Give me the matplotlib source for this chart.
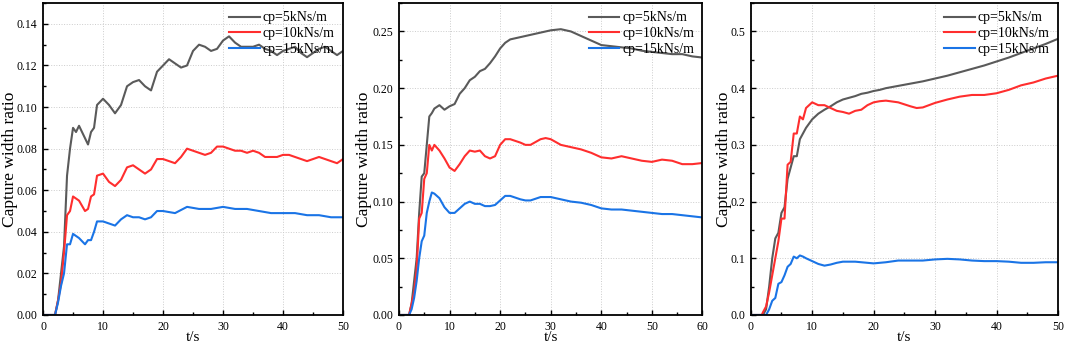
import matplotlib
matplotlib.use("Agg")
import matplotlib.pyplot as plt
from matplotlib.ticker import MultipleLocator, FormatStrFormatter

plt.rcParams['font.family'] = ['Liberation Serif', 'DejaVu Serif']

# =====================================================
# DATA
# =====================================================

LABELS = ["cp=5kNs/m", "cp=10kNs/m", "cp=15kNs/m"]
COLORS = ["#5a5a5a", "#ff2e2e", "#1a74e6"]

# ---- panel (a), t = 0..50 s
t_a = [0, 1, 2, 2.5, 3, 3.5, 4, 4.5, 5, 5.5, 6, 7, 7.5, 8, 8.5, 9, 10, 11, 12, 13,
       14, 15, 16, 17, 18, 19, 20, 21, 22, 23, 24, 25, 26, 27, 28, 29, 30, 31, 32, 33,
       34, 35, 36, 37, 38, 39, 40, 41, 42, 43, 44, 45, 46, 47, 48, 49, 50]
a_cp5 = [0, 0, 0, 0.007, 0.02, 0.033, 0.067, 0.08, 0.09, 0.088, 0.091, 0.085, 0.082, 0.088, 0.09, 0.101,
         0.104, 0.101, 0.097, 0.101, 0.11, 0.112, 0.113, 0.11, 0.108, 0.117, 0.12, 0.123, 0.121, 0.119,
         0.12, 0.127, 0.13, 0.129, 0.127, 0.128, 0.132, 0.134, 0.131, 0.129, 0.129, 0.129, 0.13, 0.128,
         0.127, 0.125, 0.127, 0.128, 0.129, 0.126, 0.124, 0.126, 0.128, 0.129, 0.127, 0.125, 0.127]
a_cp10 = [0, 0, 0, 0.007, 0.015, 0.03, 0.048, 0.05, 0.057, 0.056, 0.055, 0.05, 0.051, 0.057, 0.058, 0.067,
          0.068, 0.064, 0.062, 0.065, 0.071, 0.072, 0.07, 0.068, 0.07, 0.075, 0.075, 0.074, 0.073, 0.076,
          0.08, 0.079, 0.078, 0.077, 0.078, 0.081, 0.081, 0.08, 0.079, 0.079, 0.078, 0.079, 0.078, 0.076,
          0.076, 0.076, 0.077, 0.077, 0.076, 0.075, 0.074, 0.075, 0.076, 0.075, 0.074, 0.073, 0.075]
a_cp15 = [0, 0, 0, 0.006, 0.014, 0.02, 0.034, 0.034, 0.039, 0.038, 0.037, 0.034, 0.036, 0.036, 0.04, 0.045,
          0.045, 0.044, 0.043, 0.046, 0.048, 0.047, 0.047, 0.046, 0.047, 0.05, 0.05, 0.0495, 0.049, 0.0505,
          0.052, 0.0515, 0.051, 0.051, 0.051, 0.0515, 0.052, 0.0515, 0.051, 0.051, 0.051, 0.0505, 0.05, 0.0495,
          0.049, 0.049, 0.049, 0.049, 0.049, 0.0485, 0.048, 0.048, 0.048, 0.0475, 0.047, 0.047, 0.047]

# ---- panel (b), t = 0..60 s
t_b = [0, 1, 2, 2.5, 3, 3.5, 4, 4.5, 5, 5.5, 6, 6.5, 7, 8, 9, 10, 11, 12, 13, 14, 15, 16, 17, 18, 19,
       20, 21, 22, 24, 25, 26, 28, 29, 30, 32, 34, 36, 38, 40, 42, 44, 46, 48, 50, 52, 54, 56, 58, 60]
b_cp5 = [0, 0, 0, 0.01, 0.03, 0.05, 0.09, 0.122, 0.125, 0.15, 0.175, 0.178, 0.182, 0.185, 0.181, 0.184,
         0.186, 0.195, 0.2, 0.207, 0.21, 0.215, 0.217, 0.222, 0.228, 0.235, 0.24, 0.243, 0.245, 0.246,
         0.247, 0.249, 0.25, 0.251, 0.252, 0.25, 0.246, 0.242, 0.238, 0.237, 0.236, 0.235, 0.233, 0.232,
         0.231, 0.23, 0.23, 0.228, 0.227]
b_cp10 = [0, 0, 0, 0.01, 0.02, 0.04, 0.085, 0.09, 0.12, 0.125, 0.15, 0.145, 0.15, 0.145, 0.138, 0.13,
          0.127, 0.133, 0.14, 0.145, 0.144, 0.145, 0.14, 0.138, 0.14, 0.15, 0.155, 0.155, 0.152, 0.15,
          0.15, 0.155, 0.156, 0.155, 0.15, 0.148, 0.146, 0.143, 0.139, 0.138, 0.14, 0.138, 0.136, 0.135,
          0.137, 0.136, 0.133, 0.133, 0.134]
b_cp15 = [0, 0, 0, 0.005, 0.015, 0.03, 0.05, 0.065, 0.07, 0.09, 0.1, 0.108, 0.107, 0.103, 0.095, 0.09,
          0.09, 0.094, 0.098, 0.1, 0.098, 0.098, 0.096, 0.096, 0.097, 0.101, 0.105, 0.105, 0.102, 0.101,
          0.101, 0.104, 0.104, 0.104, 0.102, 0.1, 0.099, 0.097, 0.094, 0.093, 0.093, 0.092, 0.091, 0.09,
          0.089, 0.089, 0.088, 0.087, 0.086]

# ---- panel (c), t = 0..50 s
t_c = [0, 1, 1.8, 2, 2.5, 3, 3.5, 4, 4.5, 5, 5.5, 6, 6.5, 7, 7.5, 8, 8.5, 9, 10, 11, 12, 13, 14, 15,
       16, 17, 18, 19, 20, 21, 22, 24, 26, 27, 28, 30, 32, 34, 36, 38, 40, 42, 44, 46, 48, 50]
c_cp5 = [0, 0, 0, 0, 0.01, 0.05, 0.1, 0.135, 0.145, 0.18, 0.19, 0.24, 0.26, 0.28, 0.28, 0.31, 0.32,
         0.33, 0.345, 0.355, 0.362, 0.368, 0.375, 0.38, 0.383, 0.386, 0.39, 0.392, 0.395, 0.397, 0.4,
         0.404, 0.408, 0.41, 0.412, 0.417, 0.422, 0.428, 0.434, 0.44, 0.447, 0.454, 0.462, 0.47, 0.478,
         0.487]
c_cp10 = [0, 0, 0, 0.005, 0.015, 0.04, 0.07, 0.1, 0.13, 0.17, 0.17, 0.265, 0.27, 0.32, 0.32, 0.35,
          0.345, 0.365, 0.375, 0.37, 0.37, 0.365, 0.36, 0.358, 0.355, 0.36, 0.362, 0.37, 0.375, 0.377,
          0.378, 0.375, 0.368, 0.365, 0.366, 0.374, 0.38, 0.385, 0.388, 0.388, 0.391, 0.397, 0.405,
          0.41, 0.417, 0.422]
c_cp15 = [0, 0, 0, 0, 0, 0.01, 0.025, 0.03, 0.055, 0.058, 0.07, 0.085, 0.09, 0.103, 0.1, 0.105, 0.103,
          0.1, 0.095, 0.09, 0.087, 0.089, 0.092, 0.094, 0.094, 0.094, 0.093, 0.092, 0.091, 0.092, 0.093,
          0.096, 0.096, 0.096, 0.096, 0.098, 0.099, 0.098, 0.096, 0.095, 0.095, 0.094, 0.092, 0.092,
          0.093, 0.093]

PANELS = [
    (t_a, [a_cp5, a_cp10, a_cp15], 50, 0.15, 0.02, 0.01, "%.2f"),
    (t_b, [b_cp5, b_cp10, b_cp15], 60, 0.275, 0.05, 0.025, "%.2f"),
    (t_c, [c_cp5, c_cp10, c_cp15], 50, 0.55, 0.1, 0.05, "%.1f"),
]

# axes rectangles in figure fraction (left, bottom, width, height)
RECTS = [
    (0.0404, 0.087, 0.2817, 0.904),
    (0.3746, 0.087, 0.2850, 0.904),
    (0.7049, 0.087, 0.2885, 0.904),
]

# y-label x position (axes fraction, right edge of rotated label)
YLABEL_X = [-0.085, -0.088, -0.060]

# =====================================================
# PLOT
# =====================================================

fig = plt.figure(figsize=(10.65, 3.45), dpi=100)

for rect, lx, (t, series, xmax, ymax, ymaj, ymin, fmt) in zip(RECTS, YLABEL_X, PANELS):
    ax = fig.add_axes(rect)
    for y, c, lab in zip(series, COLORS, LABELS):
        ax.plot(t, y, color=c, lw=1.5, label=lab)

    ax.set_xlim(0, xmax)
    ax.set_ylim(0, ymax)
    ax.xaxis.set_major_locator(MultipleLocator(10))
    ax.xaxis.set_minor_locator(MultipleLocator(5))
    ax.yaxis.set_major_locator(MultipleLocator(ymaj))
    ax.yaxis.set_minor_locator(MultipleLocator(ymin))
    ax.yaxis.set_major_formatter(FormatStrFormatter(fmt))

    ax.tick_params(which='both', direction='in', labelsize=8.5, width=1.0)
    ax.tick_params(which='major', length=3.5, pad=4)
    ax.tick_params(which='minor', length=2)
    for sp in ax.spines.values():
        sp.set_linewidth(1.3)

    ax.grid(True, which='major', color='#cccccc', ls=':', lw=0.7)

    ax.set_xlabel("t/s", fontsize=11, labelpad=-1)
    ax.set_ylabel("Capture width ratio", fontsize=12.5)
    ax.yaxis.set_label_coords(lx, 0.5)

    ax.legend(loc='upper right', frameon=False, fontsize=10,
              handlelength=2.2, handletextpad=0.2, labelspacing=0.2,
              borderaxespad=0.3, borderpad=0.3)

plt.savefig("out.png", dpi=100)
plt.close()
